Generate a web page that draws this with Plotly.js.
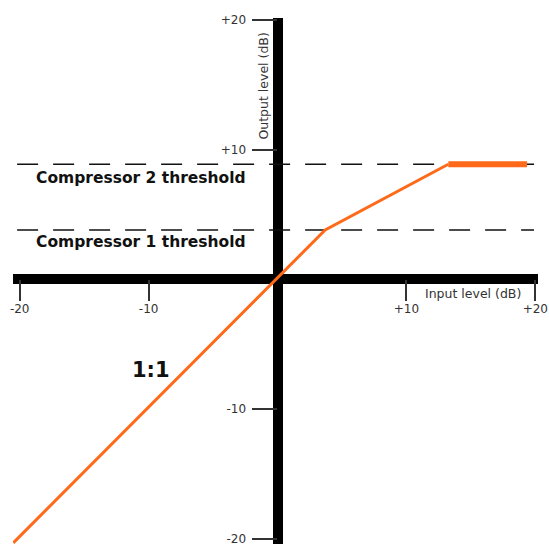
<!DOCTYPE html>
<html>
<head>
<meta charset="utf-8">
<script src="https://cdn.plot.ly/plotly-3.0.1.min.js"></script>
<style>html,body{margin:0;padding:0;background:#fff;}#chart{width:549px;height:544px;}</style>
</head>
<body>
<div id="chart"></div>
<script>
// Transfer curve (input dB -> output dB)
const inputLevel = [-20.5, 3.7, 13.25];
const outputLevel = [-20.3, 3.8, 8.86];
// Limited (flat) section above compressor 2 threshold
const limitInput = [13.25, 19.36];
const limitOutput = [8.86, 8.86];
// Thresholds (output dB)
const compressor1Threshold = 3.8;
const compressor2Threshold = 8.86;
const thresholdSpan = [-20.2, 19.9];
// Ticks
const xTickVals = [-20, -10, 10, 20];
const xTickText = ['-20', '-10', '+10', '+20'];
const yTickVals = [-20, -10, 10, 20];
const yTickText = ['-20', '-10', '+10', '+20'];

const ORANGE = '#ff6a1a';
const FONT = 'DejaVu Sans, Verdana, sans-serif';

const traces = [
  {x: thresholdSpan, y: [compressor1Threshold, compressor1Threshold], mode: 'lines',
   line: {color: '#111', width: 1.6, dash: '21px,15px'}, hoverinfo: 'skip', showlegend: false},
  {x: thresholdSpan, y: [compressor2Threshold, compressor2Threshold], mode: 'lines',
   line: {color: '#111', width: 1.6, dash: '21px,15px'}, hoverinfo: 'skip', showlegend: false},
  {x: inputLevel, y: outputLevel, mode: 'lines',
   line: {color: ORANGE, width: 3}, showlegend: false},
  {x: limitInput, y: limitOutput, mode: 'lines',
   line: {color: ORANGE, width: 6}, showlegend: false}
];

const layout = {
  width: 549, height: 544,
  margin: {l: 13, r: 11, t: 18, b: 0, pad: 0},
  paper_bgcolor: '#fff', plot_bgcolor: '#fff',
  showlegend: false,
  font: {family: FONT, color: '#333'},
  xaxis: {
    range: [-20.52, 20.21], anchor: 'free', position: 0.5032,
    showgrid: false, showline: false,
    zeroline: true, zerolinecolor: '#000', zerolinewidth: 10,
    tickmode: 'array', tickvals: xTickVals, ticktext: xTickText,
    ticks: 'outside', ticklen: 21, tickwidth: 2, tickcolor: '#333',
    tickfont: {family: FONT, size: 12, color: '#333'},
    ticklabelstandoff: -3, ticklabeloverflow: 'allow'
  },
  yaxis: {
    range: [-20.39, 20.13], anchor: 'free', position: 0.5038,
    showgrid: false, showline: false,
    zeroline: true, zerolinecolor: '#000', zerolinewidth: 10,
    tickmode: 'array', tickvals: yTickVals, ticktext: yTickText,
    ticks: 'outside', ticklen: 25, tickwidth: 2, tickcolor: '#333',
    tickfont: {family: FONT, size: 12, color: '#333'},
    ticklabelstandoff: 4, ticklabeloverflow: 'allow'
  },
  annotations: [
    {x: -10.59, y: 7.8, xref: 'x', yref: 'y', text: '<b>Compressor 2 threshold</b>', showarrow: false,
     font: {family: FONT, size: 15.5, color: '#111'}},
    {x: -10.59, y: 2.87, xref: 'x', yref: 'y', text: '<b>Compressor 1 threshold</b>', showarrow: false,
     font: {family: FONT, size: 15.5, color: '#111'}},
    {x: -9.81, y: -7.0, xref: 'x', yref: 'y', text: '<b>1:1</b>', showarrow: false,
     font: {family: FONT, size: 21, color: '#111'}},
    {x: 15.2, y: -1.13, xref: 'x', yref: 'y', text: 'Input level (dB)', showarrow: false,
     font: {family: FONT, size: 12.5, color: '#333'}},
    {x: -1.16, y: 14.89, xref: 'x', yref: 'y', text: 'Output level (dB)', showarrow: false, textangle: -90,
     font: {family: FONT, size: 12.5, color: '#333'}}
  ]
};

Plotly.newPlot('chart', traces, layout, {displayModeBar: false, staticPlot: true});
</script>
</body>
</html>
